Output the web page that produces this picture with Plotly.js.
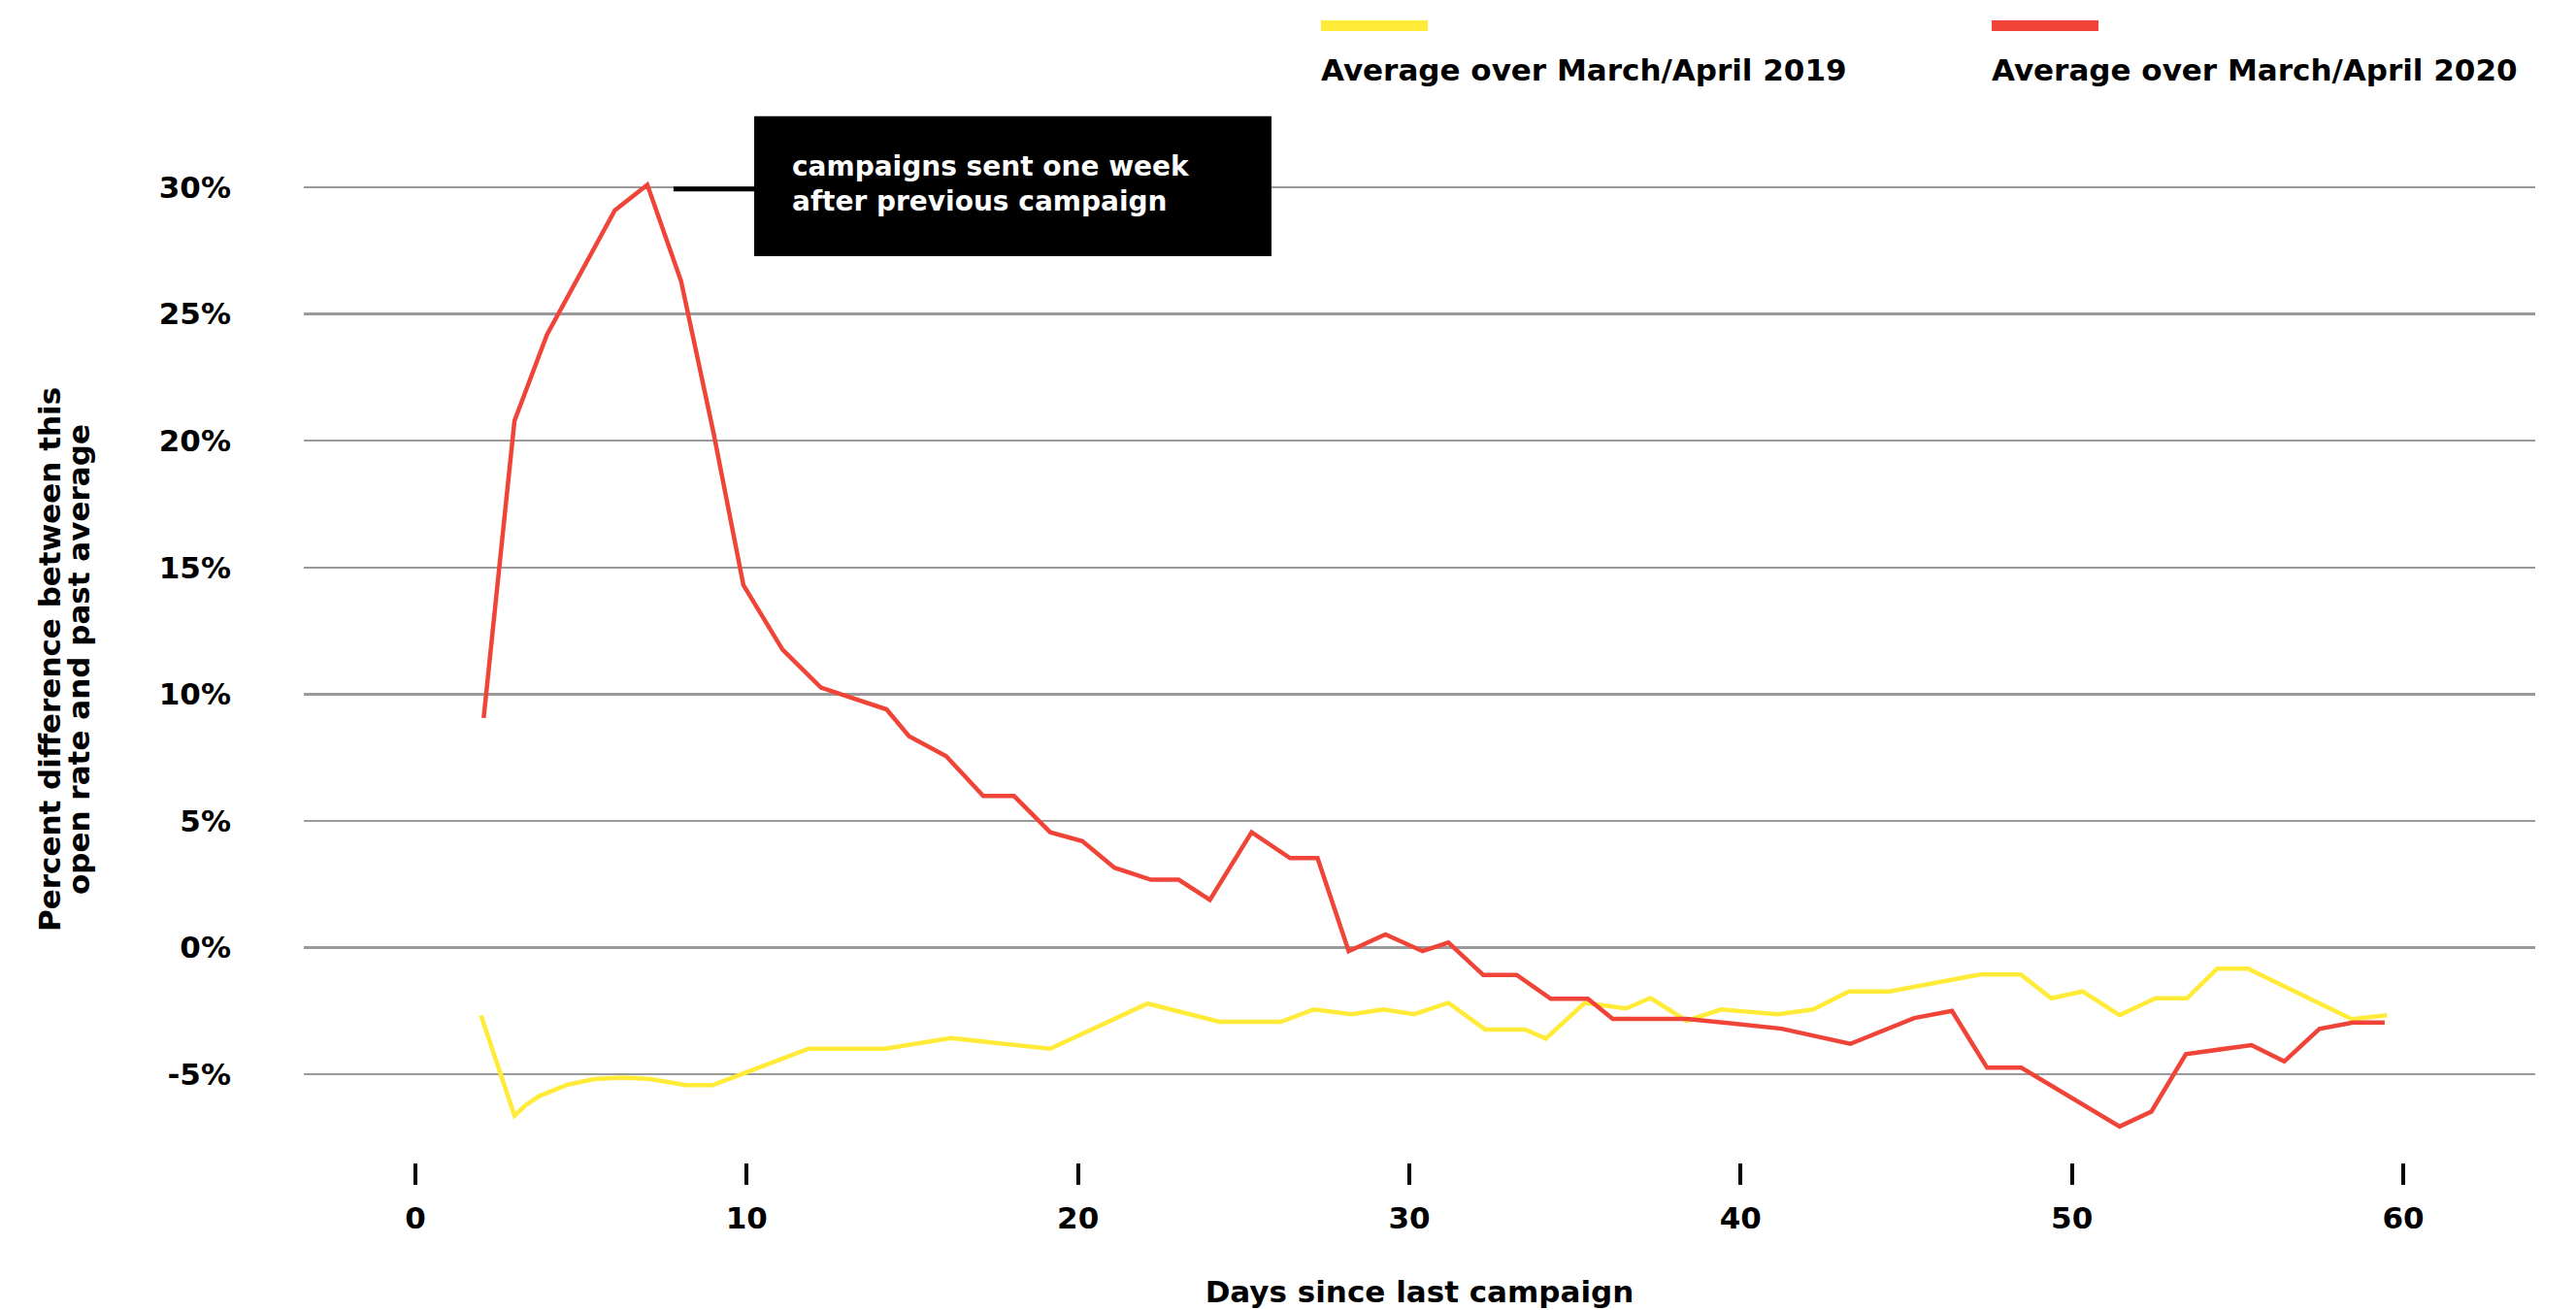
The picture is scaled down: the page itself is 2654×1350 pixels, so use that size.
<!DOCTYPE html>
<html>
<head>
<meta charset="utf-8">
<script src="https://cdn.plot.ly/plotly-3.0.1.min.js"></script>
<style>html,body{margin:0;padding:0;background:#fff;}#chart{width:2654px;height:1350px;}</style>
</head>
<body>
<div id="chart"></div>
<script>
// ---- data ----
const seriesNames = ["Average over March/April 2019", "Average over March/April 2020"];
const days2019 = [1.98, 2.99, 3.3, 3.72, 4.56, 5.40, 6.24, 7.08, 8.17, 8.97, 11.87, 14.18, 16.16, 19.16, 22.1, 24.27, 26.12, 27.12, 28.26, 29.21, 30.15, 31.18, 32.29, 33.5, 34.12, 35.3, 36.54, 37.28, 38.37, 39.41, 41.12, 42.19, 43.27, 44.49, 47.24, 48.45, 49.38, 50.32, 51.44, 52.52, 53.47, 54.39, 55.31, 58.45, 59.51];
const pct2019 = [-2.68, -6.63, -6.25, -5.87, -5.42, -5.19, -5.13, -5.19, -5.43, -5.43, -3.99, -3.99, -3.57, -3.99, -2.21, -2.93, -2.93, -2.44, -2.63, -2.44, -2.63, -2.18, -3.23, -3.23, -3.59, -2.18, -2.40, -1.99, -2.89, -2.44, -2.63, -2.44, -1.73, -1.73, -1.06, -1.06, -2.0, -1.73, -2.67, -2.0, -2.0, -0.83, -0.83, -2.82, -2.67];
const days2020 = [2.06, 2.99, 3.97, 6.02, 7.0, 8.02, 9.0, 9.9, 11.08, 12.24, 14.22, 14.9, 16.02, 17.14, 18.07, 19.16, 20.13, 21.1, 22.2, 23.04, 23.98, 25.24, 26.4, 27.23, 28.17, 29.28, 30.4, 31.18, 32.23, 33.24, 34.27, 35.39, 36.14, 38.37, 41.24, 43.31, 45.24, 46.38, 47.44, 48.47, 51.44, 52.4, 53.44, 55.42, 56.41, 57.47, 58.48, 59.44];
const pct2020 = [9.06, 20.78, 24.18, 29.09, 30.1, 26.29, 20.3, 14.3, 11.76, 10.26, 9.4, 8.34, 7.55, 5.98, 5.98, 4.55, 4.2, 3.15, 2.68, 2.68, 1.88, 4.55, 3.53, 3.53, -0.14, 0.52, -0.14, 0.2, -1.08, -1.08, -2.02, -2.02, -2.81, -2.81, -3.2, -3.8, -2.78, -2.5, -4.74, -4.74, -7.06, -6.47, -4.2, -3.85, -4.49, -3.21, -2.96, -2.96];
const xTickVals = [0, 10, 20, 30, 40, 50, 60];
const yTickVals = [-5, 0, 5, 10, 15, 20, 25, 30];
const yTickText = ["-5%", "0%", "5%", "10%", "15%", "20%", "25%", "30%"];
const noteText = ["campaigns sent one week", "after previous campaign"];
const xTitle = "Days since last campaign";
const yTitle = ["Percent difference between this", "open rate and past average"];

// ---- layout helpers ----
const W = 2654, H = 1350, ML = 313, MR = 42, MT = 100, MB = 152;
const PW = W - ML - MR, PH = H - MT - MB;
const px = x => (x - ML) / PW;
const py = y => (H - MB - y) / PH;
const FONT = "DejaVu Sans, Liberation Sans, sans-serif";
const colors = ["#FFEB38", "#F04438"];

const traces = [
  {x: days2019, y: pct2019, name: seriesNames[0], type: "scatter", mode: "lines",
   line: {color: colors[0], width: 4.5, shape: "linear"}, hoverinfo: "skip"},
  {x: days2020, y: pct2020, name: seriesNames[1], type: "scatter", mode: "lines",
   line: {color: colors[1], width: 4.5, shape: "linear"}, hoverinfo: "skip"}
];

const titleFont = {family: FONT, size: 31, color: "#000", weight: 700};

const layout = {
  width: W, height: H,
  margin: {l: ML, r: MR, t: MT, b: MB, pad: 0},
  paper_bgcolor: "#fff", plot_bgcolor: "#fff",
  showlegend: false,
  font: {family: FONT, color: "#000", size: 31, weight: 700},
  xaxis: {
    range: [-3.369, 63.985], tickvals: xTickVals, ticktext: xTickVals.map(String),
    showgrid: false, zeroline: false, showline: false,
    ticks: "outside", ticklen: 22, tickwidth: 4, tickcolor: "#000",
    ticklabelstandoff: 8,
    tickfont: titleFont,
    title: {text: xTitle, font: titleFont, standoff: 48},
    automargin: false, fixedrange: true
  },
  yaxis: {
    range: [-8.48, 33.56], tickvals: yTickVals, ticktext: yTickText,
    showgrid: true, gridcolor: "#9a9a9a", gridwidth: 2.5,
    zeroline: false, showline: false, ticks: "",
    ticklabelstandoff: 74,
    tickfont: titleFont,
    automargin: false, fixedrange: true
  },
  shapes: [
    // legend swatches
    {type: "rect", xref: "paper", yref: "paper", x0: px(1361), x1: px(1471), y0: py(32), y1: py(21),
     fillcolor: colors[0], line: {width: 0}},
    {type: "rect", xref: "paper", yref: "paper", x0: px(2052), x1: px(2162), y0: py(32), y1: py(21),
     fillcolor: colors[1], line: {width: 0}},
    // annotation box + connector
    {type: "rect", xref: "x", yref: "y", x0: 10.225, x1: 25.84, y0: 27.28, y1: 32.80,
     fillcolor: "#000", line: {width: 0}, layer: "above"},
    {type: "line", xref: "x", yref: "y", x0: 7.79, x1: 10.225, y0: 29.93, y1: 29.93,
     line: {color: "#000", width: 5}, layer: "above"}
  ],
  annotations: [
    {xref: "paper", yref: "paper", x: px(1359), y: py(72), xanchor: "left", yanchor: "middle",
     text: seriesNames[0], showarrow: false, font: titleFont},
    {xref: "paper", yref: "paper", x: px(2050), y: py(72), xanchor: "left", yanchor: "middle",
     text: seriesNames[1], showarrow: false, font: titleFont},
    {xref: "x", yref: "y", x: 11.31, y: 30.12, xanchor: "left", yanchor: "middle", align: "left",
     text: noteText.join("<br>"), showarrow: false,
     font: {family: FONT, size: 28, color: "#fff", weight: 700}},
    // y-axis title, two lines
    {xref: "paper", yref: "paper", x: px(51), y: py(680), xanchor: "center", yanchor: "middle",
     textangle: -90, text: yTitle[0], showarrow: false, font: titleFont},
    {xref: "paper", yref: "paper", x: px(81), y: py(680), xanchor: "center", yanchor: "middle",
     textangle: -90, text: yTitle[1], showarrow: false, font: titleFont}
  ]
};

Plotly.newPlot("chart", traces, layout, {displayModeBar: false, staticPlot: true});
</script>
</body>
</html>
